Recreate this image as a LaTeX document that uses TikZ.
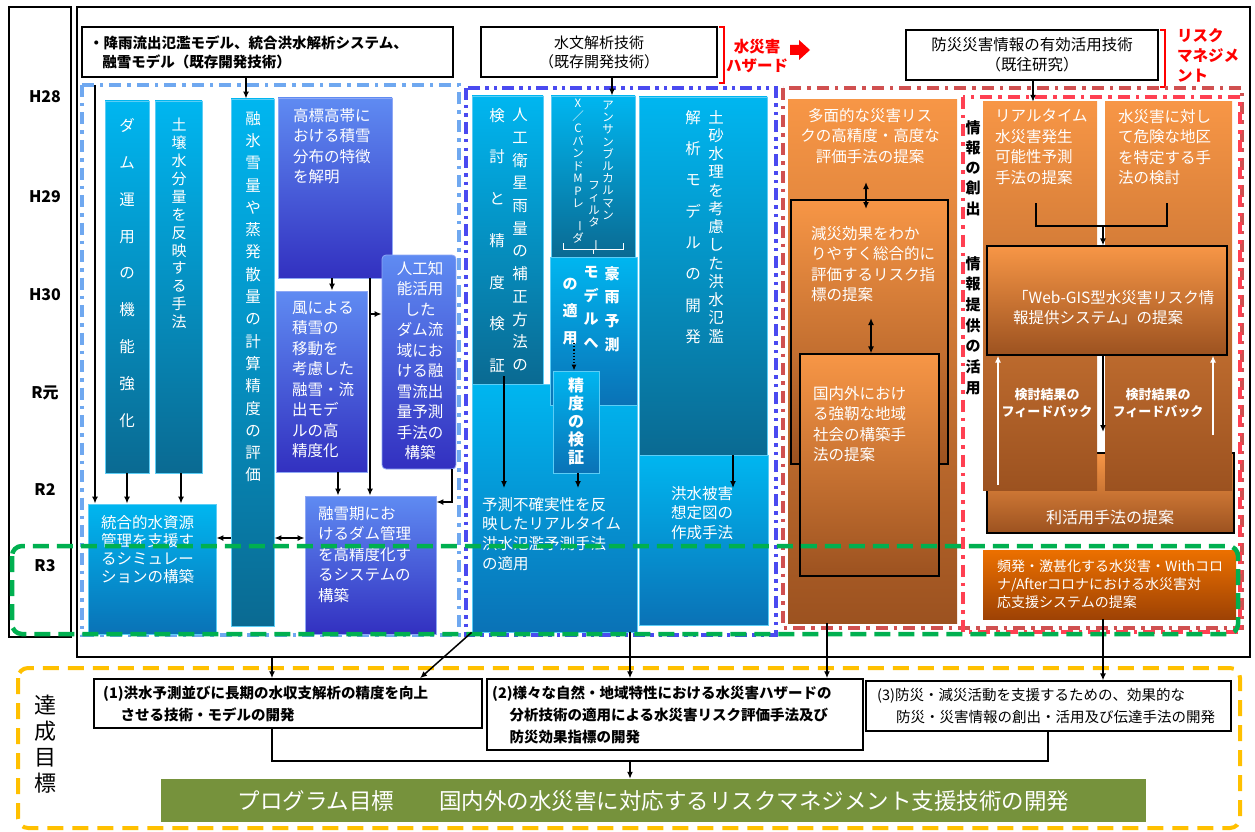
\documentclass[tikz,border=0pt]{standalone}
\usepackage{fontspec}
\setmainfont{Noto Sans CJK JP}
\usepackage{graphicx}
\usetikzlibrary{fit,arrows.meta}

\definecolor{cyantop}{HTML}{00B6F0}
\definecolor{cyanbot}{HTML}{0A6A92}
\definecolor{cyanbotb}{HTML}{0A72B6}
\definecolor{cyanedge}{HTML}{5CCDF5}
\definecolor{bluetop}{HTML}{5F8BF2}
\definecolor{bluebot}{HTML}{3230C0}
\definecolor{blueedge}{HTML}{8EA8F5}
\definecolor{orgtop}{HTML}{F79646}
\definecolor{orgbot}{HTML}{9C5220}
\definecolor{orgtopb}{HTML}{EC7000}
\definecolor{orgbotb}{HTML}{9E4204}
\definecolor{ltblue}{HTML}{6FA8F0}
\definecolor{dkblue}{HTML}{4A4AF0}
\definecolor{dkred}{HTML}{D05050}
\definecolor{brred}{HTML}{FF4052}
\definecolor{grn}{HTML}{00B050}
\definecolor{ylw}{HTML}{FFC000}
\definecolor{olive}{HTML}{76923C}

\def\tatei#1{\ifx\relax#1\else#1\par\expandafter\tatei\fi}
\newcommand\tate[1]{\tatei#1\relax}
\newcommand\tatebar{\rotatebox{-90}{ー}}

\begin{document}
\begin{tikzpicture}[x=1pt, y=-1pt,
	every node/.style={inner sep=0pt, font=\fontsize{15.5}{20.5}\selectfont},
	cyanbox/.style={top color=cyantop, bottom color=cyanbot, draw=cyanedge, line width=0.8pt},
	cyanboxb/.style={top color=cyantop, bottom color=cyanbotb, draw=cyanedge, line width=0.8pt},
	bluebox/.style={top color=bluetop, bottom color=bluebot, draw=blueedge, line width=0.8pt},
	orgbox/.style={top color=orgtop, bottom color=orgbot},
	orgboxb/.style={top color=orgtopb, bottom color=orgbotb},
	hdrbox/.style={draw=black, line width=1.5pt, fill=white},
	wtxt/.style={text=white, align=left, anchor=north west},
	vtxt/.style={text=white, text width=22pt, align=center, anchor=north},
	year/.style={font=\bfseries\fontsize{16}{16}\selectfont},
	arr/.style={-{Latex[length=7pt,width=6pt]}, line width=1.5pt},
	dbl/.style={{Latex[length=7pt,width=6pt]}-{Latex[length=7pt,width=6pt]}, line width=1.5pt},
	warr/.style={-{Latex[length=7pt,width=6pt]}, line width=1.5pt, white},
	region/.style={line width=3.5pt, dash pattern=on 12pt off 6pt on 3.5pt off 6pt}]

	\useasboundingbox (0,0) rectangle (1255,832);

	\node[draw, line width=1.5pt, fit={(9,7) (71,637)}] (years) {};
	\node[draw, line width=1.5pt, fit={(77,7) (1250,657)}] (main) {};
	\node[year] at (45,97) {H28};
	\node[year] at (45,197) {H29};
	\node[year] at (45,295) {H30};
	\node[year] at (45,393) {R元};
	\node[year] at (45,490) {R2};
	\node[year] at (45,566) {R3};

	\node[hdrbox, fit={(82,27) (453,77)}] (hA) {};
	\node[anchor=north west, align=left, font=\bfseries\fontsize{14.5}{19}\selectfont] at (89,36) {・降雨流出氾濫モデル、統合洪水解析システム、\\\hspace*{0.9em}融雪モデル（既存開発技術）};
	\node[hdrbox, fit={(481,27) (717,77)}] (hB) {};
	\node[align=center, font=\fontsize{15}{19}\selectfont] at (hB.center) {水文解析技術\\（既存開発技術）};
	\node[hdrbox, fit={(906,30) (1158,80)}] (hC) {};
	\node[align=center, font=\fontsize{15.5}{20}\selectfont] at (hC.center) {防災災害情報の有効活用技術\\（既往研究）};

	\draw[red, line width=1.5pt] (719,27) -| (724,83) -- (719,83);
	\node[align=center, text=red, font=\bfseries\fontsize{15.5}{19}\selectfont] (hazard) at (757,56) {水災害\\ハザード};
	\fill[red] (790,45) -- (799,45) -- (799,40) -- (810,50) -- (799,60) -- (799,55) -- (790,55) -- cycle;
	\draw[red, line width=1.5pt] (1160,30) -| (1165,87) -- (1160,87);
	\node[anchor=north west, align=left, text=red, font=\bfseries\fontsize{15.5}{20}\selectfont] (riskm) at (1177,28) {リスク\\マネジメ\\ント};

	\draw[ltblue, region] (82,85) rectangle (459,635);
	\draw[dkblue, region, dash pattern=on 12pt off 5pt on 3.5pt off 5pt on 3.5pt off 5pt] (466,88) rectangle (776,635);
	\draw[dkred, region] (783,88) rectangle (1242,628);
	\draw[brred, region] (963,97) rectangle (1240,632);

	\node[cyanbox, fit={(105,101) (149,473)}] (dam) {};
	\node[cyanbox, fit={(155,101) (202,473)}] (soil) {};
	\node[cyanbox, fit={(231,99) (274,626)}] (melt) {};
	\node[cyanboxb, fit={(88,504) (216,634)}] (togo) {};
	\node[bluebox, fit={(278,98) (392,278)}] (koh) {};
	\node[bluebox, fit={(276,291) (367,472)}] (kaze) {};
	\node[bluebox, rounded corners=4pt, fit={(382,255) (456,469)}] (ai) {};
	\node[bluebox, fit={(305,496) (436,634)}] (yuki) {};

	\node[cyanboxb, fit={(472,384) (637,632)}] (yosoku) {};
	\node[cyanbox, fit={(472,96) (543,384)}] (eisei) {};
	\node[cyanbox, fit={(551,96) (635,257)}] (ens) {};
	\node[cyanboxb, fit={(550,257) (637,405)}] (goh) {};
	\node[cyanboxb, fit={(553,371) (599,473)}] (seido) {};
	\node[cyanboxb, fit={(639,455) (768,625)}] (higai) {};
	\node[cyanbox, fit={(639,97) (767,455)}] (dosha) {};

	\node[orgbox, fit={(788,100) (957,623)}] (tamen) {};
	\node[orgbox, draw=black, line width=1.2pt, fit={(791,200) (948,464)}] (gensai) {};
	\node[orgbox, draw=black, line width=1.2pt, fit={(800,354) (939,576)}] (kokunai) {};

	\node[orgbox, draw=black, line width=1.2pt, fit={(987,453) (1234,533)}] (rikatsu) {};
	\node[orgbox, fit={(983,102) (1097,490)}] (rt) {};
	\node[orgbox, fit={(1105,102) (1232,490)}] (kiken) {};
	\node[orgbox, draw=black, line width=1.2pt, fit={(987,246) (1227,355)}] (webgis) {};
	\node[orgboxb, fit={(983,550) (1236,619)}] (hinpatsu) {};

	\node[vtxt, font=\fontsize{15.5}{36.9}\selectfont] at (127,118) {\tate{ダム運用の機能強化}};
	\node[vtxt, font=\fontsize{15}{17.9}\selectfont] at (179,118) {\tate{土壌水分量を反映する手法}};
	\node[vtxt, font=\fontsize{15.5}{22.3}\selectfont] at (253,111) {\tate{融氷雪量や蒸発散量の計算精度の評価}};
	\node[wtxt] at (293,108) {高標高帯に\\おける積雪\\分布の特徴\\を解明};
	\node[wtxt] at (292,301) {風による\\積雪の\\移動を\\考慮した\\融雪・流\\出モデ\\ルの高\\精度化};
	\node[wtxt, align=center, anchor=north] at (420,261) {人工知\\能活用\\した\\ダム流\\域にお\\ける融\\雪流出\\量予測\\手法の\\構築};
	\node[wtxt] at (318,506) {融雪期にお\\けるダム管理\\を高精度化す\\るシステムの\\構築};
	\node[wtxt, font=\fontsize{15.5}{18}\selectfont] at (101,515) {統合的水資源\\管理を支援す\\るシミュレー\\ションの構築};

	\node[vtxt, font=\fontsize{15.5}{22.7}\selectfont] at (520,108) {\tate{人工衛星雨量の補正方法の}};
	\node[vtxt, font=\fontsize{15.5}{41.7}\selectfont] at (497,108) {\tate{検討と精度検証}};
	\node[vtxt, font=\fontsize{11.5}{12.2}\selectfont] at (608,101) {\tate{アンサンブルカルマン}};
	\node[vtxt, font=\fontsize{11.5}{12.5}\selectfont] at (594,181) {\tate{フィルタ\tatebar}};
	\node[vtxt, font=\fontsize{11.5}{12.5}\selectfont] at (578,99) {\tate{X／CバンドMPレ\tatebar ダ}};
	\draw[white, line width=1pt] (563,243) -- (563,249) -- (623,249) -- (623,243) (593,249) -- (593,254);
	\node[vtxt, font=\bfseries\fontsize{15}{23.7}\selectfont] at (612,266) {\tate{豪雨予測}};
	\node[vtxt, font=\bfseries\fontsize{15}{23.7}\selectfont] at (591,266) {\tate{モデルへ}};
	\node[vtxt, font=\bfseries\fontsize{15}{27}\selectfont] at (570,278) {\tate{の適用}};
	\node[vtxt, font=\bfseries\fontsize{16}{18}\selectfont] at (576,378) {\tate{精度の検証}};
	\node[wtxt, font=\fontsize{15.5}{19.6}\selectfont] at (482,497) {予測不確実性を反\\映したリアルタイム\\洪水氾濫予測手法\\の適用};
	\node[vtxt, font=\fontsize{15.5}{18.25}\selectfont] at (716,110) {\tate{土砂水理を考慮した洪水氾濫}};
	\node[vtxt, font=\fontsize{15.5}{31.3}\selectfont] at (693,110) {\tate{解析モデルの開発}};
	\node[wtxt, align=center, anchor=north, font=\fontsize{15.5}{19.5}\selectfont] at (702,486) {洪水被害\\想定図の\\作成手法};

	\node[wtxt, align=center, anchor=north] at (870,108) {多面的な災害リス\\クの高精度・高度な\\評価手法の提案};
	\node[wtxt] at (811,226) {減災効果をわか\\りやすく総合的に\\評価するリスク指\\標の提案};
	\node[wtxt] at (813,386) {国内外におけ\\る強靭な地域\\社会の構築手\\法の提案};

	\node[vtxt, text=black, font=\bfseries\fontsize{15}{20.25}\selectfont] at (973,120) {\tate{情報の創出}};
	\node[vtxt, text=black, font=\bfseries\fontsize{15}{20.7}\selectfont] at (973,256) {\tate{情報提供の活用}};
	\node[wtxt] at (995,109) {リアルタイム\\水災害発生\\可能性予測\\手法の提案};
	\node[wtxt] at (1118,109) {水災害に対し\\て危険な地区\\を特定する手\\法の検討};
	\node[wtxt] at (1013,290) {「Web-GIS型水災害リスク情\\報提供システム」の提案};
	\node[wtxt, align=center, anchor=north, font=\bfseries\fontsize{13}{17}\selectfont] at (1047,388) {検討結果の\\フィードバック};
	\node[wtxt, align=center, anchor=north, font=\bfseries\fontsize{13}{17}\selectfont] at (1158,388) {検討結果の\\フィードバック};
	\node[text=white, font=\fontsize{16}{16}\selectfont] at (1110,517) {利活用手法の提案};
	\node[wtxt, font=\fontsize{14}{18}\selectfont] at (997,560) {頻発・激甚化する水災害・Withコロ\\ナ/Afterコロナにおける水災害対\\応支援システムの提案};

	\draw[arr] (hA.south -| 246,0) -- (melt.north -| 246,0);
	\coordinate (lbtop) at (95,85);
	\draw[arr] (lbtop) -- (lbtop |- togo.north);
	\draw[arr] (dam.south) -- (dam.south |- togo.north);
	\draw[arr] (soil.south -| 181,0) -- (togo.north -| 181,0);
	\draw[arr] (melt.west |- 0,538) -- (togo.east |- 0,538);
	\draw[dbl] (melt.east |- 0,538) -- (yuki.west |- 0,538);
	\draw[arr] (koh.south -| 332,0) -- (kaze.north -| 332,0);
	\draw[arr] (koh.south -| 370,0) -- (yuki.north -| 370,0);
	\draw[arr] (370,314) -- (ai.west |- 0,314);
	\draw[arr] (kaze.south -| 338,0) -- (yuki.north -| 338,0);
	\draw[arr] (ai.south -| 452,0) |- (yuki.east |- 0,502);

	\draw[arr] (hB.south -| 612,0) -- (ens.north -| 612,0);
	\coordinate (e1) at (504,376);
	\draw[arr, line width=1.2pt] (e1) -- (e1 |- 0,488);
	\draw[arr, line width=1.2pt] (seido.south -| 578,0) -- (578,488);
	\draw[-{Latex[length=6pt,width=5pt]}, dotted, line width=1.2pt] (574,343) -- (seido.north -| 574,0);
	\draw[arr, line width=1.2pt] (dosha.south -| 733,0) -- (733,488);

	\draw[dbl] (866,182) -- (866,209);
	\draw[dbl] (871,318) -- (kokunai.north -| 871,0);
	\draw[arr] (hC.south -| 1033,0) -- (rt.north -| 1033,0);
	\draw[line width=1.5pt] (1036,203) |- (1167,226) -- (1167,203);
	\draw[arr] (1103,226) -- (webgis.north -| 1103,0);
	\draw[warr] (998,485) -- (webgis.south -| 998,0);
	\draw[warr] (1213,435) -- (webgis.south -| 1213,0);
	\draw[arr] (webgis.south -| 1103,0) -- (1103,432);

	\draw[grn, line width=4.5pt, dash pattern=on 16pt off 8pt, rounded corners=10pt] (12,546) rectangle (1238,634);

	\draw[ylw, line width=4pt, dash pattern=on 16pt off 9pt, rounded corners=10pt] (18,668) rectangle (1240,828);
	\node[vtxt, text=black, font=\fontsize{22}{26}\selectfont] at (45,695) {\tate{達成目標}};
	\node[hdrbox, fit={(94,679) (482,728)}] (goal1) {};
	\node[anchor=north west, align=left, font=\bfseries\fontsize{14.5}{22}\selectfont] at (103,686) {(1)洪水予測並びに長期の水収支解析の精度を向上\\\hspace*{1.2em}させる技術・モデルの開発};
	\node[hdrbox, fit={(487,679) (863,750)}] (goal2) {};
	\node[anchor=north west, align=left, font=\bfseries\fontsize{14.5}{22}\selectfont] at (492,686) {(2)様々な自然・地域特性における水災害ハザードの\\\hspace*{1.2em}分析技術の適用による水災害リスク評価手法及び\\\hspace*{1.2em}防災効果指標の開発};
	\node[hdrbox, line width=1.2pt, fit={(866,681) (1231,731)}] (goal3) {};
	\node[anchor=north west, align=left, font=\fontsize{14.5}{22}\selectfont] at (877,688) {(3)防災・減災活動を支援するための、効果的な\\\hspace*{1.3em}防災・災害情報の創出・活用及び伝達手法の開発};
	\node[fill=olive, fit={(161,779) (1146,822)}] (goal) {};
	\node[text=white, font=\fontsize{22.5}{22.5}\selectfont] at (goal.center) {プログラム目標\hspace{2em}国内外の水災害に対応するリスクマネジメント支援技術の開発};

	\draw[arr] (main.south -| 272,0) -- (goal1.north -| 272,0);
	\draw[arr] (yosoku.south west) -- (goal1.north -| 420,0);
	\draw[arr] (yosoku.south -| 630,0) -- (goal2.north -| 630,0);
	\draw[arr] (tamen.south -| 827,0) -- (goal2.north -| 827,0);
	\draw[arr] (hinpatsu.south -| 1103,0) -- (goal3.north -| 1103,0);
	\draw[line width=1.5pt] (goal1.south -| 272,0) -- (272,761) -| (goal3.south -| 1048,0);
	\draw[arr] (630,761) -- (goal.north -| 630,0);
\end{tikzpicture}
\end{document}
